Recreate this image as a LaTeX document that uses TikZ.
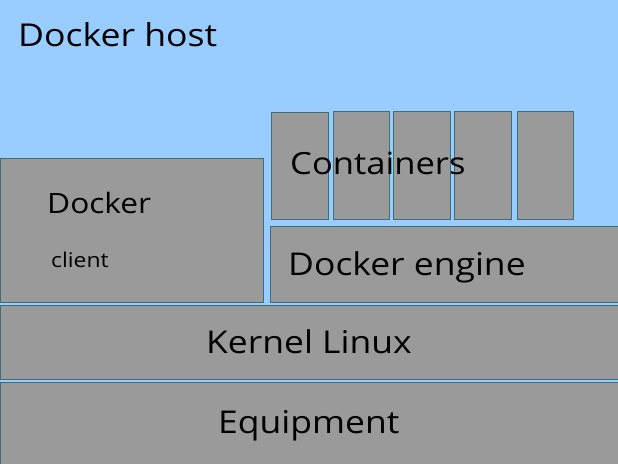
\documentclass[tikz,border=0pt]{standalone}
\usepackage{fontspec}
\setmainfont[FakeStretch=1.13]{Open Sans}
\definecolor{hostblue}{RGB}{153,204,255}
\definecolor{boxgray}{RGB}{154,154,154}
\definecolor{boxedge}{RGB}{60,110,115}
\begin{document}
\begin{tikzpicture}[x=1pt,y=-1pt,
  box/.style={draw=boxedge,line width=0.8pt,fill=boxgray,anchor=north west,inner sep=0pt,outer sep=0pt},
  lbl/.style={anchor=base west,inner sep=0pt,text=black},
  big/.style={lbl,font=\fontsize{31.4}{31.4}\selectfont},
  small/.style={lbl,font=\fontsize{20.3}{20.3}\selectfont}]
\useasboundingbox (0,0) rectangle (618,463);
\begin{scope}
\clip (0,0) rectangle (618,463);
\fill[hostblue] (0,0) rectangle (618,463);
\node[box,minimum width=263pt,minimum height=144pt] (client) at (0,158) {};
\node[box,minimum width=348pt,minimum height=76pt] (engine) at (270,226) {};
\node[box,minimum width=57pt,minimum height=107pt] (c1) at (271,112) {};
\node[box,minimum width=56pt,minimum height=108pt] (c2) at (333,111) {};
\node[box,minimum width=57pt,minimum height=108pt] (c3) at (393,111) {};
\node[box,minimum width=57pt,minimum height=108pt] (c4) at (454,111) {};
\node[box,minimum width=56pt,minimum height=108pt] (c5) at (517,111) {};
\node[box,minimum width=619pt,minimum height=74pt] (kernel) at (0,305) {};
\node[box,minimum width=619pt,minimum height=84pt] (equip) at (0,382) {};
\end{scope}
\node[lbl,font=\fontsize{31.5}{31.5}\selectfont] (hostlbl) at (18,46) {Docker host};
\node[lbl,font=\fontsize{30.6}{30.6}\selectfont] (contlbl) at (290,174) {Containers};
\node[lbl,font=\fontsize{28}{28}\selectfont] (docklbl) at (47,213) {Docker};
\node[small] (clientlbl) at (51,267) {client};
\node[big] (englbl) at (288,275) {Docker engine};
\node[big] (kernlbl) at (206,353) {Kernel Linux};
\node[big] (equiplbl) at (218,433) {Equipment};
\end{tikzpicture}
\end{document}
